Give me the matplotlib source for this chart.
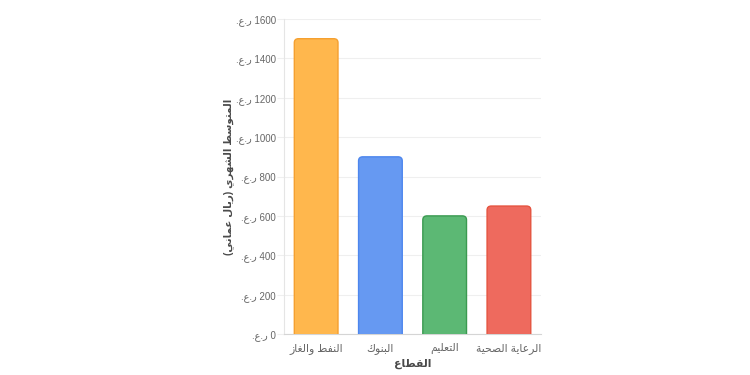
import matplotlib
matplotlib.use("Agg")
import matplotlib.pyplot as plt
from matplotlib.patches import FancyBboxPatch

# --- data ---
sectors = ["النفط والغاز", "البنوك", "التعليم", "الرعاية الصحية"]
avg_salary = [1500, 900, 600, 650]
fill_colors = ["#FFB74D", "#6699F2", "#5CB874", "#EE6A5E"]
edge_colors = ["#F5A030", "#4D86EE", "#3A9A50", "#E5533F"]
y_ticks = [0, 200, 400, 600, 800, 1000, 1200, 1400, 1600]
currency = "ر.ع."
x_title = "القطاع"
y_title = "المتوسط الشهري (ريال عماني)"

# minimal arabic shaping (presentation forms), matplotlib has no bidi
FORMS = {
    "ا": (0xFE8D, False), "ب": (0xFE8F, True), "ة": (0xFE93, False),
    "ت": (0xFE95, True), "ح": (0xFEA1, True), "ر": (0xFEAD, False),
    "ز": (0xFEAF, False), "س": (0xFEB1, True), "ش": (0xFEB5, True),
    "ص": (0xFEB9, True), "ط": (0xFEC1, True), "ع": (0xFEC9, True),
    "غ": (0xFECD, True), "ف": (0xFED1, True), "ق": (0xFED5, True),
    "ك": (0xFED9, True), "ل": (0xFEDD, True), "م": (0xFEE1, True),
    "ن": (0xFEE5, True), "ه": (0xFEE9, True), "و": (0xFEED, False),
    "ي": (0xFEF1, True),
}
MIRROR = {"(": ")", ")": "("}


def shape(s):
    out = []
    for i, ch in enumerate(s):
        if ch not in FORMS:
            out.append(MIRROR.get(ch, ch))
            continue
        base, dual = FORMS[ch]
        prev = s[i - 1] if i > 0 else ""
        nxt = s[i + 1] if i + 1 < len(s) else ""
        join_prev = prev in FORMS and FORMS[prev][1]
        join_next = dual and nxt in FORMS
        if join_prev and join_next:
            cp = base + 3
        elif join_next:
            cp = base + 2
        elif join_prev:
            cp = base + 1
        else:
            cp = base
        out.append(chr(cp))
    return "".join(reversed(out))


plt.rcParams["font.family"] = ["Liberation Sans", "DejaVu Sans"]

fig = plt.figure(figsize=(7.5, 3.75), dpi=100)
ax = fig.add_axes([0.3787, 0.1093, 0.3427, 0.84])

x = list(range(len(sectors)))
bars = ax.bar(x, avg_salary, width=0.68)
r_x = 0.065
aspect = 20.5 / r_x
for b, fc, ec in zip(bars, fill_colors, edge_colors):
    b.set_visible(False)
    bx, by = b.get_x(), b.get_y()
    w, h = b.get_width(), b.get_height()
    p = FancyBboxPatch((bx, by - 30), w, h + 30,
                       boxstyle="round,pad=0,rounding_size=%f" % r_x,
                       mutation_aspect=aspect, facecolor=fc, edgecolor=ec,
                       linewidth=1.0, zorder=3)
    ax.add_patch(p)

ax.set_xlim(-0.5, len(sectors) - 0.5)
ax.set_ylim(0, 1600)
ax.set_yticks(y_ticks)
ax.set_yticklabels([shape(currency) + " " + str(v) for v in y_ticks])
ax.set_xticks(x)
ax.set_xticklabels([shape(s) for s in sectors], va="baseline")

ax.grid(axis="y", color="#EFEFEF", linewidth=0.8, zorder=0)
ax.tick_params(axis="y", length=5, color="#EFEFEF", labelsize=7.0,
               labelcolor="#666666", pad=0.8)
ax.tick_params(axis="x", length=0, labelsize=7.8, labelcolor="#666666", pad=12.5)
for side in ["top", "right"]:
    ax.spines[side].set_visible(False)
ax.spines["left"].set_color("#E5E5E5")
ax.spines["bottom"].set_color("#D5D5D5")
ax.spines["left"].set_linewidth(0.8)
ax.spines["bottom"].set_linewidth(0.8)

ax.set_xlabel(shape(x_title), fontsize=7.8, fontweight="bold", color="#4A4A4A")
ax.set_ylabel(shape(y_title), fontsize=7.4, fontweight="bold", color="#4A4A4A")
ax.xaxis.set_label_coords(0.5, -0.095)
ax.yaxis.set_label_coords(-0.215, 0.5)
ax.xaxis.label.set_va("center")
ax.yaxis.label.set_va("center")

fig.savefig("out.png", dpi=100)
